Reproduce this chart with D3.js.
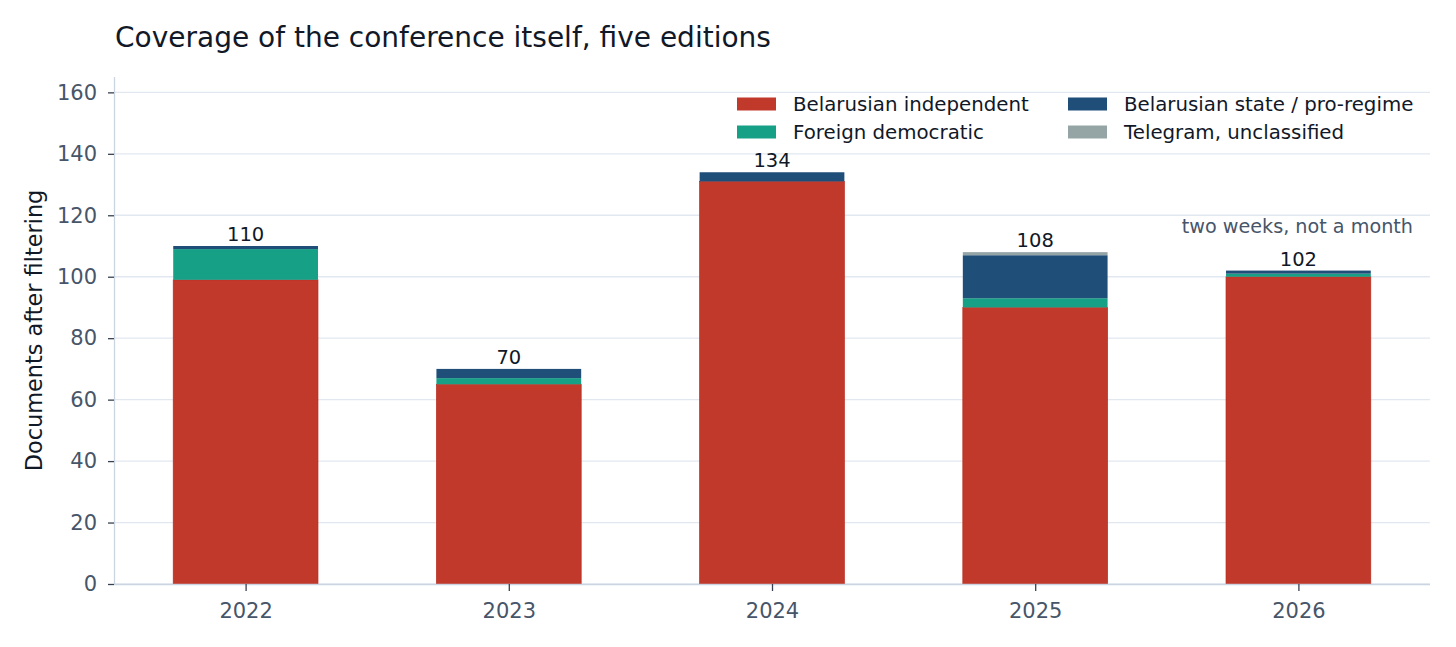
<!DOCTYPE html>
<html>
<head>
<meta charset="utf-8">
<script src="https://cdn.jsdelivr.net/npm/d3@7"></script>
<style>
  body { margin: 0; background: #fff; }
  svg { display: block; font-family: "DejaVu Sans", sans-serif; }
</style>
</head>
<body>
<svg id="chart" width="1456" height="647"></svg>
<script>
// editions and per-group document counts
var years = ['2022', '2023', '2024', '2025', '2026'];
var independent = [99, 65, 131, 90, 100];
var foreignDem = [10, 2, 0, 3, 1];
var stateRegime = [1, 3, 3, 14, 1];
var telegram = [0, 0, 0, 1, 0];
var yTicks = [0, 20, 40, 60, 80, 100, 120, 140, 160];

var groups = [
    {key: 'independent', label: 'Belarusian independent', color: '#c0392b', edge: '#b82d20', values: independent},
    {key: 'foreign', label: 'Foreign democratic', color: '#16a085', edge: null, values: foreignDem},
    {key: 'state', label: 'Belarusian state / pro-regime', color: '#1f4e79', edge: null, values: stateRegime},
    {key: 'telegram', label: 'Telegram, unclassified', color: '#95a5a6', edge: null, values: telegram}
];

var rows = years.map(function(y, i) {
    var r = {year: y};
    groups.forEach(function(g) { r[g.key] = g.values[i]; });
    return r;
});

var svg = d3.select('#chart');
var plotL = 114, plotR = 1430, plotT = 77, plotB = 584;

var x = d3.scaleLinear().domain([-0.5, years.length - 0.5]).range([plotL, plotR]);
var y = d3.scaleLinear().domain([0, 165]).range([plotB, plotT]);
var barW = 0.55;

var stack = d3.stack().keys(groups.map(function(g) { return g.key; }));
var series = stack(rows);

// grid
svg.append('g').selectAll('line').data(yTicks).join('line')
    .attr('x1', plotL).attr('x2', plotR)
    .attr('y1', function(d) { return y(d); }).attr('y2', function(d) { return y(d); })
    .attr('stroke', '#e2e8f0').attr('stroke-width', 1.3);

// bars
svg.append('g').selectAll('g').data(series).join('g')
    .attr('fill', function(s, i) { return groups[i].color; })
    .attr('stroke', function(s, i) { return groups[i].edge || 'none'; })
    .attr('stroke-width', 0.7)
    .selectAll('rect').data(function(s) { return s; }).join('rect')
    .attr('x', function(d, i) { return x(i - barW / 2); })
    .attr('width', x(barW) - x(0))
    .attr('y', function(d) { return y(d[1]); })
    .attr('height', function(d) { return y(d[0]) - y(d[1]); });

// totals
svg.append('g').selectAll('text').data(rows).join('text')
    .attr('x', function(d, i) { return x(i); })
    .attr('y', function(d) { return y(d3.sum(groups, function(g) { return d[g.key]; })) - 5; })
    .attr('text-anchor', 'middle')
    .attr('font-size', 19.5).attr('fill', '#111827')
    .text(function(d) { return d3.sum(groups, function(g) { return d[g.key]; }); });

// axes
var yAxis = svg.append('g').attr('transform', 'translate(' + plotL + ',0)')
    .call(d3.axisLeft(y).tickValues(yTicks).tickSize(6).tickPadding(11));
var xAxis = svg.append('g').attr('transform', 'translate(0,' + plotB + ')')
    .call(d3.axisBottom(x).tickValues(d3.range(years.length))
        .tickFormat(function(i) { return years[i]; }).tickSize(7).tickPadding(12));

[yAxis, xAxis].forEach(function(ax) {
    ax.select('.domain').attr('stroke', '#cbd5e1').attr('stroke-width', 1.3);
    ax.selectAll('.tick line').attr('stroke', '#374151').attr('stroke-width', 1.3);
    ax.selectAll('.tick text').attr('fill', '#475569').attr('font-size', 21)
        .attr('font-family', '"DejaVu Sans", sans-serif');
});
yAxis.select('.domain').attr('d', 'M0.5,' + plotB + 'V' + plotT);
xAxis.select('.domain').attr('d', 'M' + plotL + ',0.5H' + plotR);

// title and labels
svg.append('text').attr('x', 115).attr('y', 47)
    .attr('font-size', 28).attr('fill', '#111827')
    .text('Coverage of the conference itself, five editions');

svg.append('text')
    .attr('transform', 'translate(42,' + ((plotT + plotB) / 2) + ') rotate(-90)')
    .attr('text-anchor', 'middle').attr('font-size', 22.4).attr('fill', '#111827')
    .text('Documents after filtering');

svg.append('text').attr('x', 1413).attr('y', 233)
    .attr('text-anchor', 'end').attr('font-size', 19.2).attr('fill', '#475569')
    .text('two weeks, not a month');

// legend, two columns
var leg = svg.append('g').selectAll('g').data(groups).join('g')
    .attr('transform', function(d, i) {
        var col = Math.floor(i / 2), row = i % 2;
        return 'translate(' + (737 + col * 331) + ',' + (104 + row * 28) + ')';
    });
leg.append('rect').attr('x', 0).attr('y', -6.5).attr('width', 39).attr('height', 13)
    .attr('fill', function(d) { return d.color; });
leg.append('text').attr('x', 56).attr('y', 7)
    .attr('font-size', 19.8).attr('fill', '#111827')
    .text(function(d) { return d.label; });
</script>
</body>
</html>
